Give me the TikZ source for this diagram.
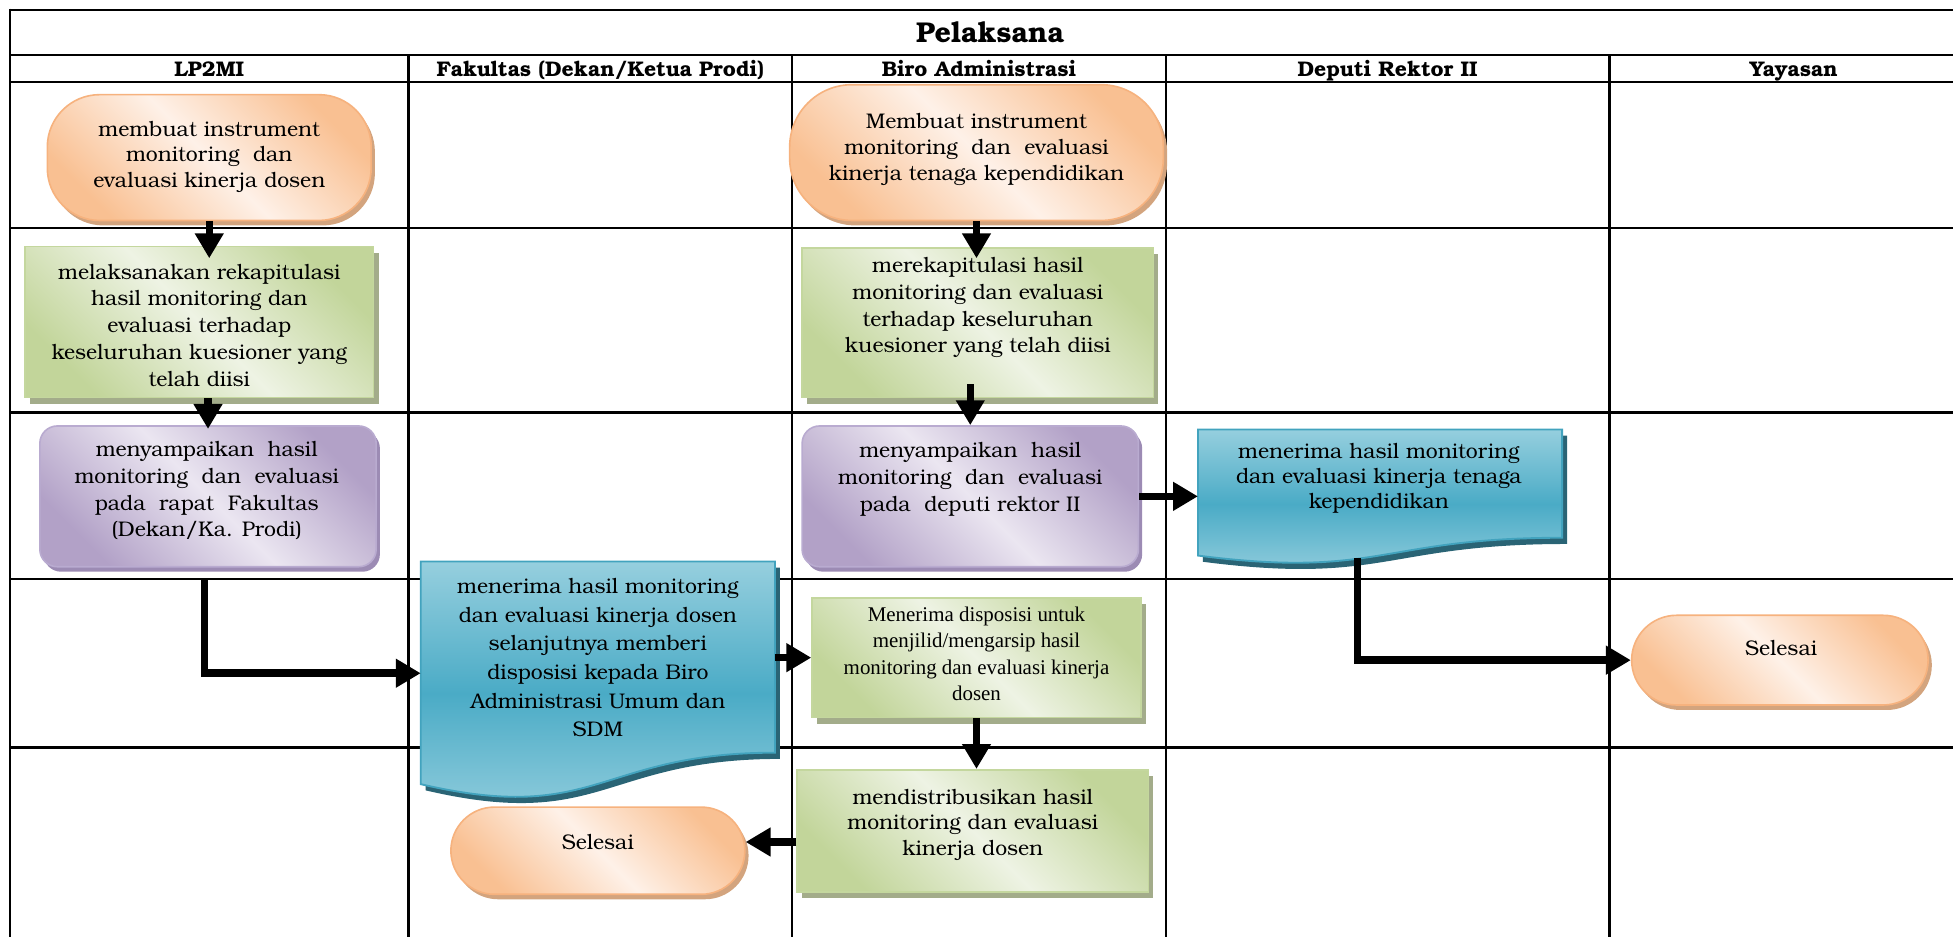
\documentclass[tikz,border=0pt]{standalone}
\usepackage{fontspec}
\setmainfont{TeX Gyre Bonum}
\newfontfamily\timesfont{Liberation Serif}
\usetikzlibrary{arrows.meta,shadows,calc}

\definecolor{orgdark}{HTML}{F9C092}
\definecolor{orglight}{HTML}{FEF1E8}
\definecolor{orgline}{HTML}{F6B27E}
\definecolor{orgshadow}{HTML}{D3A47E}
\definecolor{grndark}{HTML}{C2D59A}
\definecolor{grnlight}{HTML}{EEF3E4}
\definecolor{grnline}{HTML}{C4D79E}
\definecolor{grnshadow}{HTML}{A3AC8A}
\definecolor{purdark}{HTML}{B2A1C7}
\definecolor{purlight}{HTML}{EBE6F1}
\definecolor{purline}{HTML}{B9ABD0}
\definecolor{purshadow}{HTML}{9C8BB4}
\definecolor{bluelight}{HTML}{96CFDE}
\definecolor{bluedark}{HTML}{4AABC6}
\definecolor{blueline}{HTML}{42A3BE}
\definecolor{blueshadow}{HTML}{2A6475}

% document symbol with a wavy lower edge, drawn over the box of node #1
\newcommand\docpath[1]{(#1.north west) -- (#1.north east)
  -- ($(#1.north east)!0.802!(#1.south east)$)
  .. controls ($(#1.north)!0.802!(#1.south)$) and ($(#1.north)!1.107!(#1.south)$)
  .. ($(#1.north west)!0.934!(#1.south west)$) -- cycle}

\begin{document}
\begin{tikzpicture}[x=1pt,y=-1pt,
  grid/.style={line width=2pt},
  txt/.style={align=center, inner sep=0pt, font=\fontsize{17}{21.5}\selectfont},
  hdr/.style={font=\bfseries\fontsize{17}{19}\selectfont, anchor=base},
  shapebox/.style={inner sep=0pt},
  termbox/.style={shapebox, draw=orgline, line width=1.3pt,
    top color=orgdark, bottom color=orgdark, middle color=orglight, shading angle=-45,
    drop shadow={shadow xshift=3pt, shadow yshift=-4pt, fill=orgshadow, opacity=1}},
  procbox/.style={shapebox, draw=grnline, line width=1.3pt,
    top color=grndark, bottom color=grndark, middle color=grnlight, shading angle=-45,
    drop shadow={shadow xshift=4pt, shadow yshift=-5pt, fill=grnshadow, opacity=1}},
  sendbox/.style={shapebox, draw=purline, line width=1.3pt, rounded corners=14pt,
    top color=purdark, bottom color=purdark, middle color=purlight, shading angle=-45,
    drop shadow={shadow xshift=3pt, shadow yshift=-4pt, fill=purshadow, opacity=1}},
  docbox/.style={shapebox},
  docfill/.style={draw=blueline, line width=1.5pt, top color=bluelight, bottom color=bluelight, middle color=bluedark},
  arr/.style={line width=6pt, -{Triangle[width=22pt,length=20pt]}},
]
\useasboundingbox (0,0) rectangle (1568,752);
\clip (0,0) rectangle (1568,752);

% ---------- swimlane table ----------
\draw[grid] (8,8) -- (1600,8);
\draw[grid] (8,44) -- (1600,44);
\draw[grid] (8,66) -- (1600,66);
\foreach \yy in {183,331,465,600} \draw[grid] (8,\yy) -- (1600,\yy);
\draw[grid] (8,7) -- (8,760);
\foreach \xx in {328,636,936,1292} \draw[grid] (\xx,44) -- (\xx,760);

\node[font=\bfseries\fontsize{23}{25}\selectfont] (title) at (795,26) {Pelaksana};
\node[hdr] (h1) at (168,61.5) {LP2MI};
\node[hdr] (h2) at (482,61.5) {Fakultas (Dekan/Ketua Prodi)};
\node[hdr] (h3) at (786,61.5) {Biro Administrasi};
\node[hdr] (h4) at (1114,61.5) {Deputi Rektor II};
\node[hdr] (h5) at (1440,61.5) {Yayasan};

% ---------- shapes ----------
\node[termbox, rounded corners=42pt, minimum width=260pt, minimum height=101pt] (n1) at (168,126.5) {};
\node[termbox, rounded corners=50pt, minimum width=300pt, minimum height=109pt] (n2) at (784,122.5) {};
\node[procbox, minimum width=280pt, minimum height=121pt] (n3) at (160,258.5) {};
\node[procbox, minimum width=282pt, minimum height=120pt] (n4) at (785,259) {};
\node[sendbox, minimum width=270pt, minimum height=113pt] (n5) at (167,398.5) {};
\node[sendbox, minimum width=270pt, minimum height=113pt] (n6) at (779,398.5) {};
\node[docbox, minimum width=292pt, minimum height=108pt] (n7) at (1108,399) {};
\node[docbox, minimum width=284pt, minimum height=191pt] (n8) at (480,546.5) {};
\node[procbox, minimum width=264pt, minimum height=96pt] (n9) at (784,528) {};
\node[procbox, minimum width=282pt, minimum height=98pt] (n10) at (781,667) {};
\node[termbox, rounded corners=35pt, minimum width=236pt, minimum height=70pt] (n11) at (480,683) {};
\node[termbox, rounded corners=36pt, minimum width=238pt, minimum height=72pt] (n12) at (1429,530) {};

\begin{scope}[transform canvas={xshift=4pt,yshift=-5pt}]
  \fill[blueshadow] \docpath{n7};
  \fill[blueshadow] \docpath{n8};
\end{scope}
\path[docfill] \docpath{n7};
\path[docfill] \docpath{n8};

% ---------- texts ----------
\node[txt, font=\fontsize{17}{20.5}\selectfont] (n1t) at (168,126) {membuat instrument\\monitoring~ dan\\evaluasi kinerja dosen};
\node[txt, font=\fontsize{17}{20.5}\selectfont] (n2t) at (784,120) {Membuat instrument\\monitoring~ dan~ evaluasi\\kinerja tenaga kependidikan};
\node[txt] (n3t) at (160,261) {melaksanakan rekapitulasi\\hasil monitoring dan\\evaluasi terhadap\\keseluruhan kuesioner yang\\telah diisi};
\node[txt] (n4t) at (785,247) {merekapitulasi hasil\\monitoring dan evaluasi\\terhadap keseluruhan\\kuesioner yang telah diisi};
\node[txt] (n5t) at (166,394) {menyampaikan~ hasil\\monitoring~ dan~ evaluasi\\pada~ rapat~ Fakultas\\(Dekan/Ka. Prodi)};
\node[txt] (n6t) at (779,385) {menyampaikan~ hasil\\monitoring~ dan~ evaluasi\\pada~ deputi rektor II};
\node[txt, font=\fontsize{17}{20}\selectfont] (n7t) at (1107,384) {menerima hasil monitoring\\dan evaluasi kinerja tenaga\\kependidikan};
\node[txt, font=\fontsize{17}{23}\selectfont] (n8t) at (480,528) {menerima hasil monitoring\\dan evaluasi kinerja dosen\\selanjutnya memberi\\disposisi kepada Biro\\Administrasi Umum dan\\SDM};
\node[txt, font=\timesfont\fontsize{16.8}{21}\selectfont] (n9t) at (784,525) {Menerima disposisi untuk\\menjilid/mengarsip hasil\\monitoring dan evaluasi kinerja\\dosen};
\node[txt, font=\fontsize{17}{20.5}\selectfont] (n10t) at (781,662) {mendistribusikan hasil\\monitoring dan evaluasi\\kinerja dosen};
\node[txt] (n11t) at (480,676) {Selesai};
\node[txt] (n12t) at (1430,520) {Selesai};

% ---------- connectors ----------
\draw[arr, shorten >=-10pt] (n1.south) -- (n1.south |- n3.north);
\draw[arr, shorten >=-9pt] (n2.south) -- (n2.south |- n4.north);
\draw[arr, shorten >=-3pt] (n5.north |- n3.south) -- (n5.north);
\draw[arr] ($(n6.north |- n4.south)+(0,-11)$) -- (n6.north);
\draw[arr] (n6.east) -- (n7.west |- n6.east);
\draw[arr] ($(n5.south)+(-3,10)$) |- ($(n8.west)+(0,-6)$);
\draw[arr] (n8.east |- n9.west) -- (n9.west);
\draw[arr] (n9.south) -- (n9.south |- n10.north);
\draw[arr] ($(n10.west)+(0,9)$) -- ($(n10.west -| n11.east)+(0,9)$);
\draw[arr] ($(n7.south)+(-18,-5)$) |- (n12.west);
\end{tikzpicture}
\end{document}
